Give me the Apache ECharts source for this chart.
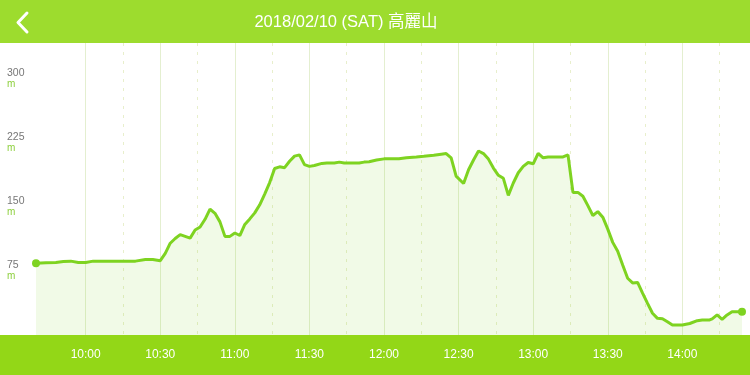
<!DOCTYPE html>
<html><head><meta charset="utf-8">
<script src="https://cdn.jsdelivr.net/npm/echarts@6/dist/echarts.min.js"></script>
<style>html,body{margin:0;padding:0;background:#fff}#c{width:750px;height:375px}</style>
</head><body><div id="c"></div>
<script>
const titleText = '2018/02/10 (SAT) 高麗山';
const times = ['09:40','09:44','09:48','09:51','09:54','09:57','10:00','10:03','10:10','10:20','10:24','10:27','10:30','10:32','10:34','10:36','10:38','10:42','10:44','10:46','10:48','10:50','10:52','10:54','10:56','10:58','11:00','11:02','11:04','11:06','11:08','11:10','11:12','11:14','11:16','11:18','11:20','11:22','11:24','11:26','11:28','11:30','11:32','11:35','11:37','11:40','11:42','11:44','11:50','11:52','11:54','11:57','12:00','12:06','12:09','12:13','12:16','12:20','12:23','12:25','12:27','12:29','12:32','12:34','12:36','12:38','12:40','12:42','12:44','12:46','12:48','12:50','12:52','12:54','12:56','12:58','13:00','13:02','13:04','13:06','13:12','13:14','13:16','13:18','13:20','13:22','13:24','13:26','13:28','13:30','13:32','13:34','13:36','13:38','13:40','13:42','13:44','13:46','13:48','13:50','13:52','13:54','13:56','14:00','14:03','14:06','14:08','14:11','14:12','14:14','14:16','14:18','14:20','14:22','14:24'];
const elevations = [84,84.5,85,86,86.5,85,85,86.5,86.5,86.5,88.5,88.5,87,95.5,107.5,113,117.5,113.5,123,126.5,135.5,147.5,142.5,132.5,115.5,115.5,119.5,116.5,129.5,136,143,152.5,165,178.5,195,197,196,203.5,209.5,211,199.5,197.5,198.5,201,201.5,201.5,202.5,201.5,201.5,202.5,203,205,206.3,206.5,207.7,208.5,209.3,210.5,211.8,212.5,207.5,186,177.5,193.5,205,215.5,212.5,206,195.5,187,183.5,163.5,178,190,197.5,202,200.5,212.8,207.5,208.5,208.5,211,167,167,162.5,151.5,140,144.5,138,124,108.5,98,82,66.5,61,61.5,49,37,25.5,19.5,19,15.5,11.7,11.7,13.5,16.8,17.6,17.6,18.8,23.5,18.4,23.5,27.3,27.3,27.3];
const xTickLabels = ['10:00','10:30','11:00','11:30','12:00','12:30','13:00','13:30','14:00'];
const yTickLabels = [75,150,225,300];

const toMin = s => { const p = s.split(':').map(Number); return p[0]*60 + p[1]; };
const fmt = v => String(Math.floor(v/60)).padStart(2,'0') + ':' + String(Math.round(v%60)).padStart(2,'0');
const data = times.map((t,i) => [toMin(t), elevations[i]]);
const tMin = toMin(times[0]), tMax = toMin(times[times.length-1]);
const gridStart = toMin(xTickLabels[0]);
const last = data.length - 1;

const chart = echarts.init(document.getElementById('c'), null, {renderer:'canvas'});
const lineColor = '#7ed321';
chart.setOption({
  animation: false,
  backgroundColor: '#ffffff',
  grid: [
    {left: 36, right: 8, top: 43, bottom: 40},
    {left: 85.7, right: 8, top: 43, bottom: 40}
  ],
  xAxis: [
    {type:'value', gridIndex:0, min:tMin, max:tMax, show:false},
    {type:'value', gridIndex:1, min:gridStart, max:tMax, interval:30, position:'bottom',
     axisLine:{show:false}, axisTick:{show:false},
     axisLabel:{color:'#ffffff', fontSize:12, margin:14, fontFamily:'Liberation Sans, Arial, sans-serif',
       formatter: v => fmt(v), customValues: xTickLabels.map(toMin)},
     splitLine:{show:true, showMaxLine:false, lineStyle:{color:'#e4efd0', width:1, type:'solid'}}},
    {type:'value', gridIndex:1, min:gridStart, max:tMax, interval:15, position:'top',
     axisLine:{show:false}, axisTick:{show:false}, axisLabel:{show:false},
     splitLine:{show:true, showMaxLine:false, lineStyle:{color:['rgba(0,0,0,0)','#e8efcc'], width:1, type:[3,6]}}}
  ],
  yAxis: [
    {type:'value', gridIndex:0, min:0, max:342, interval:75,
     axisLine:{show:false}, axisTick:{show:false}, splitLine:{show:false},
     axisLabel:{show:true, align:'left', margin:29, customValues: yTickLabels,
       formatter: v => '{v|' + v + '}\n{u|m}',
       rich:{
         v:{fontSize:10.5, lineHeight:11, color:'#777777', fontFamily:'Liberation Sans, Arial, sans-serif'},
         u:{fontSize:10, lineHeight:11, color:'#8ccf3c', fontFamily:'Liberation Sans, Arial, sans-serif'}
       }}},
    {type:'value', gridIndex:0, min:0, max:342, interval:75, offset:32,
     axisLine:{show:false}, splitLine:{show:false}, axisLabel:{show:false},
     axisTick:{show:true, length:4, customValues: yTickLabels, lineStyle:{color:'#8ccf3c', width:1}}},
    {type:'value', gridIndex:1, min:0, max:342, show:false}
  ],
  graphic: [
    {type:'rect', z:-1, shape:{x:0,y:0,width:750,height:43}, style:{fill:'#9ddc2e'}},
    {type:'rect', z:-1, shape:{x:0,y:335,width:750,height:40}, style:{fill:'#93d717'}},
    {type:'polyline', z:5, shape:{points:[[27,13],[18,22.5],[27,32]]},
     style:{stroke:'#ffffff', lineWidth:3, lineCap:'round', lineJoin:'round', fill:null}},
    {type:'text', z:5, x:346, y:22, style:{text:titleText, fill:'#ffffff', fontSize:16.5,
      fontFamily:'Liberation Sans, Arial, "Noto Sans CJK TC", sans-serif', align:'center', verticalAlign:'middle'}}
  ],
  series: [{
    type:'line', xAxisIndex:0, yAxisIndex:0, data:data, smooth:false,
    symbol:'circle',
    symbolSize: (v, p) => (p.dataIndex === 0 || p.dataIndex === last) ? 8 : 0,
    showAllSymbol: true,
    itemStyle:{color:lineColor},
    lineStyle:{color:lineColor, width:3},
    areaStyle:{color:'rgba(126,211,33,0.15)'},
    z: 3
  }]
});
</script>
</body></html>
